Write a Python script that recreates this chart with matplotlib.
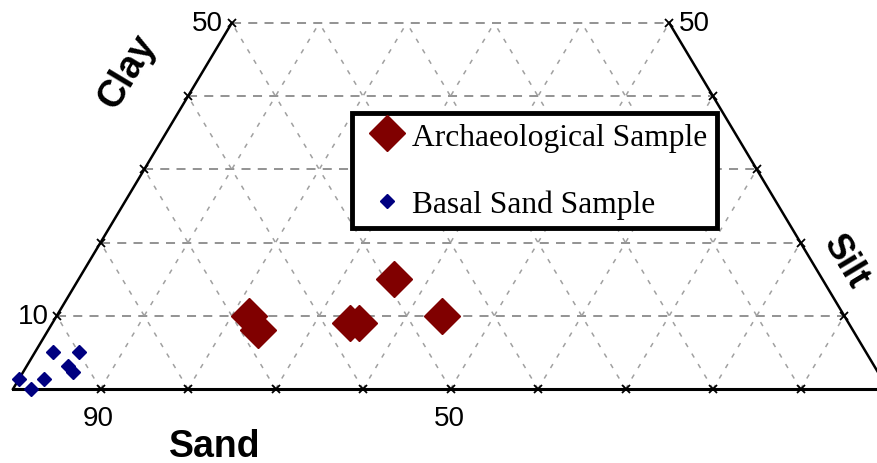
import numpy as np
import matplotlib.pyplot as plt

# Grain-size composition of each sample, in percent
arch_sand = [68, 68, 57, 56, 49, 46]
arch_silt = [22, 24, 34, 35, 36, 44]
arch_clay = [10, 8, 9, 9, 15, 10]

basal_sand = [98.7, 98.0, 95.8, 92.9, 89.9, 92.1, 92.0]
basal_silt = [0.0, 2.0, 2.9, 2.0, 5.0, 4.7, 5.7]
basal_clay = [1.3, 0.0, 1.4, 5.1, 5.1, 3.2, 2.3]

grid_steps = [10, 20, 30, 40, 50, 60, 70, 80, 90]
clay_steps = [10, 20, 30, 40, 50]
clay_max = 50


def to_xy(sand, silt, clay):
    sand, silt, clay = (np.asarray(v, float) for v in (sand, silt, clay))
    total = sand + silt + clay
    silt = silt / total * 100
    clay = clay / total * 100
    return silt + clay / 2, clay


fig = plt.figure(figsize=(8.78, 4.64), dpi=100)
ax = fig.add_axes([0, 0, 1, 1])
# 8.75 px per percent along the base, 7.32 px per percent of clay
ax.set_xlim(-13 / 8.75, (878 - 13) / 8.75)
ax.set_ylim((390 - 464) / 7.32, 390 / 7.32)
ax.axis('off')

# horizontal clay grid (the top one closes the truncated triangle)
for c in clay_steps:
    ax.plot([c / 2, 100 - c / 2], [c, c], color='#8a8a8a', lw=1.3,
            ls=(0, (5, 4)), zorder=1)

# sand and silt grid lines running up from the base
for v in grid_steps:
    top_l = min(clay_max, v)
    ax.plot([v, v - top_l / 2], [0, top_l], color='#a0a0a0', lw=1.1,
            ls=(0, (3, 5)), zorder=1)
    top_r = min(clay_max, 100 - v)
    ax.plot([v, v + top_r / 2], [0, top_r], color='#a0a0a0', lw=1.1,
            ls=(0, (3, 5)), zorder=1)

# triangle sides
ax.plot([0, 100], [0, 0], color='black', lw=2.2, zorder=2)
ax.plot([0, clay_max / 2], [0, clay_max], color='black', lw=1.8, zorder=2)
ax.plot([100 - clay_max / 2, 100], [clay_max, 0], color='black', lw=1.8, zorder=2)

# tick marks
ax.plot(grid_steps, [0] * len(grid_steps), ls='none', marker='x', ms=6,
        mew=1.3, color='black', zorder=3)
cs = np.array(clay_steps, float)
ax.plot(cs / 2, cs, ls='none', marker='x', ms=6, mew=1.3, color='black', zorder=3)
ax.plot(100 - cs / 2, cs, ls='none', marker='x', ms=6, mew=1.3, color='black', zorder=3)

# samples
ax_x, ax_y = to_xy(arch_sand, arch_silt, arch_clay)
ax.plot(ax_x, ax_y, ls='none', marker='D', ms=18.5, color='#800000',
        mec='#800000', label='Archaeological Sample', zorder=4)
bx, by = to_xy(basal_sand, basal_silt, basal_clay)
ax.plot(bx, by, ls='none', marker='D', ms=7, color='#000080',
        mec='#000080', label='Basal Sand Sample', zorder=4)

# axis numbers
num = dict(fontsize=20, family='Liberation Sans', textcoords='offset pixels')
ax.annotate('10', (5, 10), xytext=(-8, 0), ha='right', va='center', **num)
ax.annotate('50', (25, 50), xytext=(-9, 0), ha='right', va='center', **num)
ax.annotate('50', (75, 50), xytext=(10, 0), ha='left', va='center', **num)
ax.annotate('90', (10, 0), xytext=(-2, -29), ha='center', va='center', **num)
ax.annotate('50', (50, 0), xytext=(-1, -29), ha='center', va='center', **num)

# axis titles
title = dict(fontsize=27, fontweight='bold', family='Liberation Sans',
             ha='center', va='center')
ax.text(23.1, -7.8, 'Sand', **title)
ax.text(13.1, 43.4, 'Clay', rotation=59, **title)
ax.text(95.1, 17.5, 'Silt', rotation=-59, fontsize=26, fontweight='bold',
        family='Liberation Sans', ha='center', va='center')

leg = ax.legend(loc='upper left', bbox_to_anchor=(352 / 878, 1 - 114 / 464),
                bbox_transform=fig.transFigure, borderaxespad=0,
                prop={'family': 'Liberation Serif', 'size': 22.7},
                numpoints=1, handlelength=1.6, handletextpad=0.0,
                borderpad=0.3, labelspacing=1.2, fancybox=False,
                framealpha=1, edgecolor='black')
leg.get_frame().set_linewidth(3.5)
leg.set_zorder(5)

fig.savefig('out.png', dpi=100)
